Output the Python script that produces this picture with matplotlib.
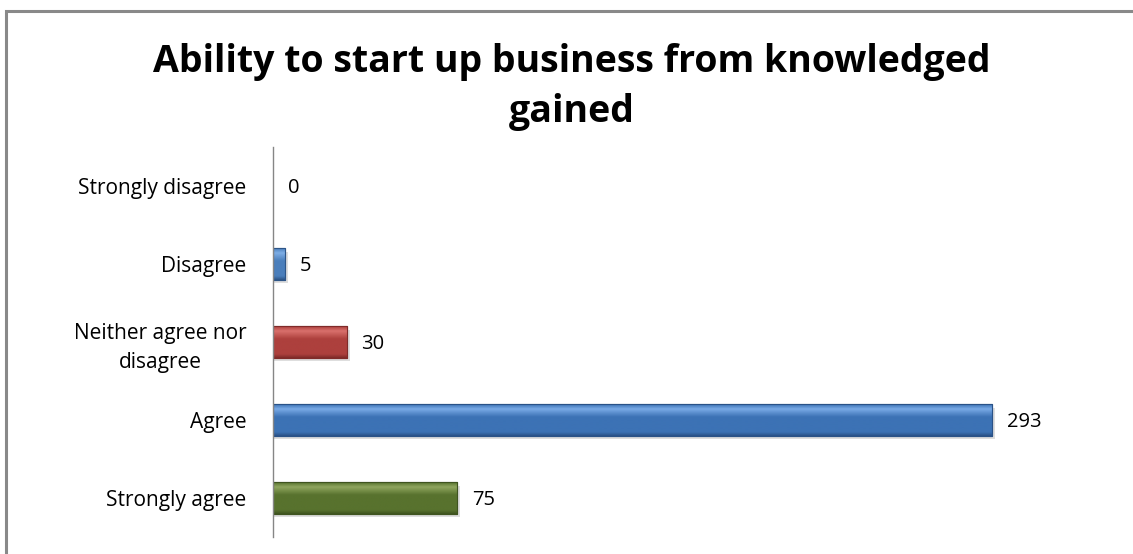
import matplotlib.pyplot as plt
import numpy as np
from matplotlib.colors import LinearSegmentedColormap
from matplotlib.patches import Rectangle

categories = ["Strongly disagree", "Disagree", "Neither agree nor\ndisagree", "Agree", "Strongly agree"]
values = [0, 5, 30, 293, 75]
bar_colors = ["#4a7ebb", "#4a7ebb", "#ad403d", "#3c72b5", "#58722e"]
light_colors = ["#7eaee6", "#7eaee6", "#d9706c", "#79aae6", "#8fa65e"]
dark_colors = ["#2d5587", "#2d5587", "#7f2b29", "#2a5287", "#3f5420"]

W, H = 1133, 554
fig = plt.figure(figsize=(W / 100, H / 100), dpi=100)

# outer chart border (only top/left visible in the crop)
fig.patches.append(Rectangle((6 / W, -0.1), 1.2, 1 - 11 / H + 0.1, transform=fig.transFigure,
                             fill=False, edgecolor="#898989", linewidth=2.2))

ax = fig.add_axes([273 / W, 17 / H, 859 / W, 390 / H])
ax.set_xlim(0, 350)
ax.set_ylim(4.5, -0.5)

ypos = np.arange(len(categories))
bh = 0.4
for y, v, c, lc, dc in zip(ypos, values, bar_colors, light_colors, dark_colors):
    if v <= 0:
        continue
    # shadow
    ax.barh(y + 0.04, v + 1.2, height=bh, left=0, color="#bfbfbf", alpha=0.5, zorder=1)
    bar = ax.barh(y, v, height=bh, color=c, edgecolor=dc, linewidth=0.8, zorder=2)[0]
    cmap = LinearSegmentedColormap.from_list("g", [(0, dc), (0.12, c), (0.6, c), (0.85, lc), (1.0, c)])
    grad = np.linspace(0, 1, 100).reshape(-1, 1)
    im = ax.imshow(grad[::-1], cmap=cmap, aspect="auto", extent=(0, v, y + bh / 2, y - bh / 2),
                   origin="upper", zorder=3, interpolation="bilinear")
    im.set_clip_path(bar)
    ax.barh(y, v, height=bh, fill=False, edgecolor=dc, linewidth=0.8, zorder=4)

for y, v in zip(ypos, values):
    ax.text(v + 6, y + 0.02, str(v), va="center", ha="left", fontsize=14.5, family="Open Sans", color="black")

ax.set_yticks(ypos)
ax.set_yticklabels(categories, fontsize=15, family="Open Sans", ha="right", multialignment="center",
                   linespacing=1.45)
ax.tick_params(axis="y", length=0, pad=19)
ax.set_xticks([])
for s in ["top", "right", "bottom"]:
    ax.spines[s].set_visible(False)
ax.spines["left"].set_color("#868686")
ax.spines["left"].set_linewidth(1)
ax.spines["left"].set_zorder(5)

fig.text(572 / W, 1 - 87 / H, "Ability to start up business from knowledged\ngained",
         ha="center", va="center", fontsize=27, fontweight="bold", family="Open Sans",
         linespacing=1.38)

fig.savefig("out.png", dpi=100)
